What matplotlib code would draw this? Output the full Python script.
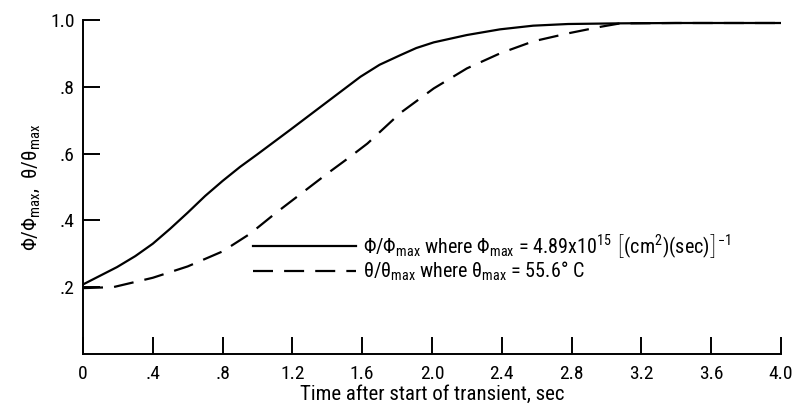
import matplotlib
matplotlib.use("Agg")
import matplotlib.pyplot as plt
from matplotlib import font_manager

# Data
t_flux = [0.0, 0.195, 0.3, 0.4, 0.5, 0.6, 0.7, 0.8, 0.9, 1.0, 1.19, 1.4, 1.59, 1.7, 1.82, 1.91,
          2.01, 2.2, 2.39, 2.58, 2.78, 3.08, 3.4, 3.7, 4.0]
flux = [0.208, 0.26, 0.293, 0.33, 0.375, 0.423, 0.473, 0.518, 0.56, 0.598, 0.672, 0.755, 0.83,
        0.866, 0.895, 0.916, 0.933, 0.955, 0.972, 0.983, 0.988, 0.990, 0.991, 0.991, 0.991]

t_temp = [0.0, 0.174, 0.4, 0.6, 0.8, 0.958, 1.1, 1.245, 1.4, 1.53, 1.63, 1.82,
          2.01, 2.2, 2.39, 2.58, 2.78, 2.97, 3.08, 3.4, 3.7, 4.0]
temp = [0.197, 0.2, 0.228, 0.262, 0.307, 0.36, 0.42, 0.478, 0.54, 0.59, 0.63, 0.722,
        0.795, 0.855, 0.90, 0.936, 0.96, 0.98, 0.99, 0.991, 0.991, 0.991]

x_ticks = [0, 0.4, 0.8, 1.2, 1.6, 2.0, 2.4, 2.8, 3.2, 3.6, 4.0]
x_labels = ["0", ".4", ".8", "1.2", "1.6", "2.0", "2.4", "2.8", "3.2", "3.6", "4.0"]
y_ticks = [0.2, 0.4, 0.6, 0.8, 1.0]
y_labels = [".2", ".4", ".6", ".8", "1.0"]

# pick a narrow face if one is around
names = {f.name for f in font_manager.fontManager.ttflist}
narrow = None
for cand in ["Roboto Condensed", "Liberation Sans Narrow", "DejaVu Sans Condensed"]:
    if cand in names:
        narrow = cand
        break
if narrow is None:
    narrow = "DejaVu Sans"
    plt.rcParams["font.stretch"] = "condensed"

plt.rcParams["font.family"] = [narrow, "DejaVu Sans"]
plt.rcParams["mathtext.fontset"] = "custom"
plt.rcParams["mathtext.rm"] = narrow
plt.rcParams["mathtext.it"] = narrow + ":italic"

fig = plt.figure(figsize=(7.92, 4.04), dpi=100)
ax = fig.add_axes([0.1048, 0.124, 0.8812, 0.8265])

ax.plot(t_flux, flux, color="black", lw=1.6, solid_joinstyle="round",
        label="Φ/Φ$_{\\mathrm{max}}$ where Φ$_{\\mathrm{max}}$ = 4.89x10$^{15}$ "
              "$\\left[(\\mathrm{cm}^2)(\\mathrm{sec})\\right]^{-1}$")
ax.plot(t_temp, temp, color="black", lw=1.6, dashes=(9, 5), dash_joinstyle="round",
        label="θ/θ$_{\\mathrm{max}}$ where θ$_{\\mathrm{max}}$ = 55.6° C")

ax.set_xlim(0, 4.0)
ax.set_ylim(0, 1.0)
ax.set_xticks(x_ticks)
ax.set_xticklabels(x_labels)
ax.set_yticks(y_ticks)
ax.set_yticklabels(y_labels)
ax.tick_params(direction="in", length=12, width=1.4, labelsize=14, colors="black")
ax.tick_params(axis="x", pad=8)
ax.tick_params(axis="y", pad=6)

ax.spines["top"].set_visible(False)
ax.spines["right"].set_visible(False)
ax.spines["left"].set_linewidth(1.4)
ax.spines["bottom"].set_linewidth(1.4)

ax.set_xlabel("Time after start of transient, sec", fontsize=15, labelpad=1)
ax.set_ylabel("Φ/Φ$_{\\mathrm{max}}$,  θ/θ$_{\\mathrm{max}}$", fontsize=15, labelpad=6)

ax.legend(loc="upper left", bbox_to_anchor=(0.218, 0.42), frameon=False,
          fontsize=14.5, handlelength=5.1, handletextpad=0.35, labelspacing=0.0)

fig.savefig("out.png", dpi=100, facecolor="white")
